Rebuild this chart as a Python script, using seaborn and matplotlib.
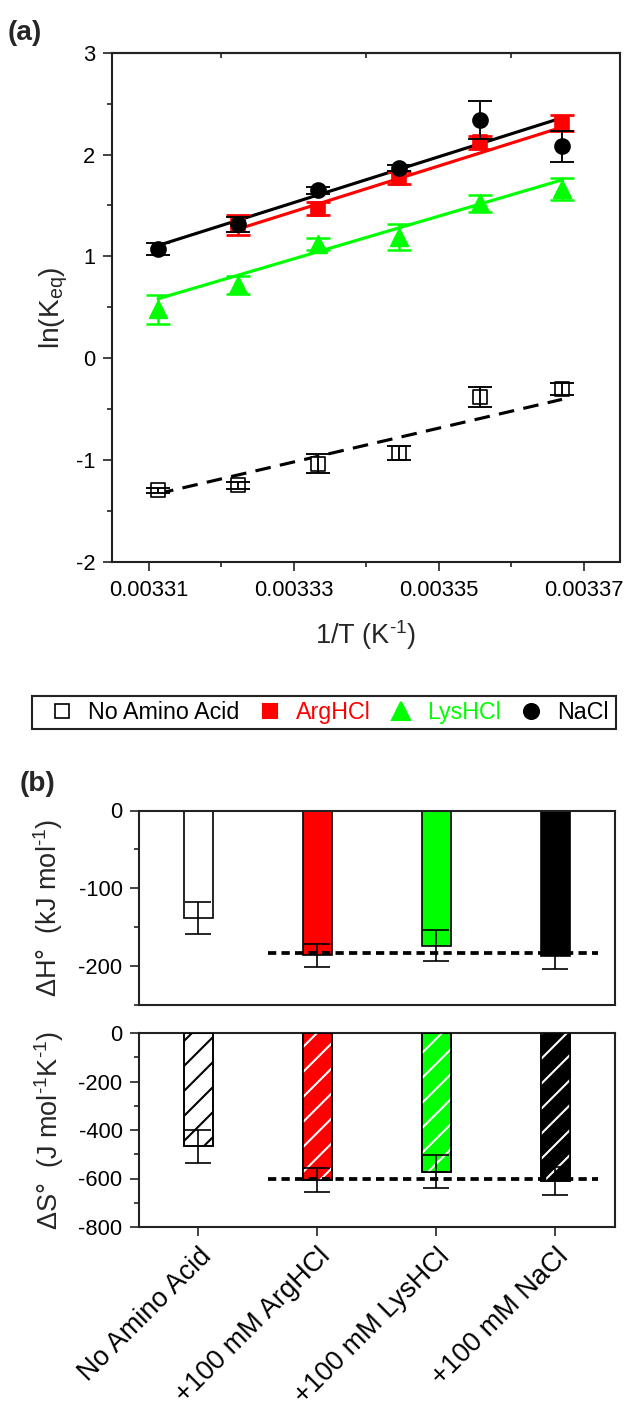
import numpy as np
import matplotlib
matplotlib.use("Agg")
import matplotlib.pyplot as plt
from matplotlib.lines import Line2D
from matplotlib.patches import Rectangle
import seaborn as sns

# ---------------- data ----------------
R_GAS = 8.314  # J mol-1 K-1
temps = np.array([302.0, 301.0, 300.0, 299.0, 298.0, 297.0])  # K

# van 't Hoff points, ln(Keq) with errors
lnk_none = [-1.295, -1.246, -1.033, -0.93, -0.38, -0.305]
err_none = [0.025, 0.033, 0.09, 0.07, 0.10, 0.06]
lnk_arg = [1.307, 1.47, 1.77, 2.12, 2.31]          # 301 K ... 297 K
err_arg = [0.10, 0.065, 0.057, 0.065, 0.08]
lnk_lys = [0.48, 0.72, 1.12, 1.19, 1.52, 1.66]
err_lys = [0.14, 0.085, 0.057, 0.127, 0.082, 0.11]
lnk_nacl = [1.07, 1.317, 1.65, 1.87, 2.34, 2.08]
err_nacl = [0.057, 0.074, 0.033, 0.028, 0.185, 0.15]

series_names = ["No Amino Acid", "ArgHCl", "LysHCl", "NaCl"]
conditions = ["No Amino Acid", "+100 mM ArgHCl", "+100 mM LysHCl", "+100 mM NaCl"]

# thermodynamic parameters from the fits
dH = [-138.0, -186.0, -174.0, -187.0]        # kJ mol-1
dH_err = [20.5, 14.6, 20.0, 17.0]
dS = [-468.0, -607.4, -571.3, -610.0]         # J mol-1 K-1
dS_err = [70.0, 50.0, 69.0, 56.0]
dH_ref = -183.0
dS_ref = -600.0

x_ticks = [0.00331, 0.00333, 0.00335, 0.00337]
x_ticklabels = ["0.00331", "0.00333", "0.00335", "0.00337"]

RED = "#ff0000"
GREEN = "#00ff00"
bar_colors = ["white", RED, GREEN, "black"]
hatch_colors = ["black", "white", "white", "white"]

# ---------------- style ----------------
sns.set_style("ticks")
plt.rcParams["font.family"] = ["Liberation Sans", "DejaVu Sans"]
plt.rcParams["mathtext.fontset"] = "custom"
plt.rcParams["mathtext.rm"] = "Liberation Sans"
plt.rcParams["mathtext.it"] = "Liberation Sans:italic"
plt.rcParams["mathtext.bf"] = "Liberation Sans:bold"
plt.rcParams["axes.unicode_minus"] = False
plt.rcParams["hatch.linewidth"] = 1.0
plt.rcParams["axes.linewidth"] = 1.0
plt.rcParams["axes.edgecolor"] = "#222222"

TICK_FS = 10.5
LABEL_FS = 13
SUP = r"$\mathregular{^{\text{-}1}}$"

W, H, DPI = 626, 1411, 150
fig = plt.figure(figsize=(W / DPI, H / DPI), dpi=DPI)


def fig_axes(left, top, right, bottom):
    return fig.add_axes([left / W, 1 - bottom / H, (right - left) / W, (bottom - top) / H])


ax_a = fig_axes(112, 52.7, 620, 562)
ax_h = fig_axes(139, 810.5, 615, 1005)
ax_s = fig_axes(139, 1033, 615, 1227)

for ax in (ax_a, ax_h, ax_s):
    for sp in ax.spines.values():
        sp.set_visible(True)
        sp.set_linewidth(1.0)
    ax.tick_params(which="major", direction="out", length=4.3, width=0.8,
                   labelsize=TICK_FS, pad=3.6, colors="#222222", labelcolor="black")
    ax.tick_params(which="minor", direction="out", length=2.2, width=0.8, colors="#222222")

# ---------------- panel (a): van 't Hoff ----------------
inv_T = 1.0 / temps


def vant_hoff(h, s, t):
    return -h * 1000.0 / (R_GAS * t) + s / R_GAS


fits = [
    (temps, dH[0], dS[0], "black", (0, (5, 3))),
    (temps[1:], dH[1], dS[1], RED, "-"),
    (temps, dH[2], dS[2], GREEN, "-"),
    (temps, dH[3], dS[3], "black", "-"),
]
for t, h, s, c, ls in fits:
    sns.lineplot(x=1.0 / t, y=vant_hoff(h, s, t), color=c, linestyle=ls,
                 linewidth=1.5, ax=ax_a, zorder=2)

points = [
    (inv_T, lnk_none, err_none, "s", 40, "white", "black", 0.9),
    (inv_T, lnk_lys, err_lys, "^", 72, GREEN, GREEN, 1.2),
    (inv_T[1:], lnk_arg, err_arg, "s", 44, RED, RED, 1.3),
    (inv_T, lnk_nacl, err_nacl, "o", 52, "black", "black", 0.9),
]
for i, (x, y, e, m, size, fc, ec, elw) in enumerate(points):
    sns.scatterplot(x=x, y=y, marker=m, s=size, color=fc, edgecolor=ec,
                    linewidth=0.8, ax=ax_a, zorder=3 + 2 * i)
    ax_a.errorbar(x, y, yerr=e, fmt="none", ecolor=ec, elinewidth=elw,
                  capsize=5.8, capthick=elw, zorder=4 + 2 * i)

ax_a.set_xlim(0.0033049, 0.003375)
ax_a.set_ylim(-2, 3)
ax_a.set_xticks(x_ticks)
ax_a.set_xticklabels(x_ticklabels)
ax_a.set_xticks([0.00332, 0.00334, 0.00336], minor=True)
ax_a.set_yticks([-2, -1, 0, 1, 2, 3])
ax_a.set_yticks([-1.5, -0.5, 0.5, 1.5, 2.5], minor=True)
ax_a.tick_params(axis="x", pad=4.2)
top_ax = ax_a.secondary_xaxis("top")
top_ax.set_xticks([0.00332, 0.00334, 0.00336])
top_ax.tick_params(direction="in", length=2.2, width=0.8, labeltop=False, colors="#222222")
top_ax.spines["top"].set_linewidth(1.0)

ax_a.set_xlabel("1/T (K" + SUP + ")", fontsize=LABEL_FS, va="top")
ax_a.xaxis.set_label_coords(0.5, -0.11)
ax_a.set_ylabel(r"ln(K$\mathregular{_{eq}}$)", fontsize=13.5)
ax_a.yaxis.set_label_coords(-0.083, 0.5)

# ---------------- legend ----------------
handles = [
    Line2D([], [], ls="none", marker="s", markersize=6.3, markerfacecolor="white",
           markeredgecolor="black", markeredgewidth=0.8),
    Line2D([], [], ls="none", marker="s", markersize=6.5, color=RED),
    Line2D([], [], ls="none", marker="^", markersize=8.5, color=GREEN),
    Line2D([], [], ls="none", marker="o", markersize=7.2, color="black"),
]
leg = fig.legend(handles, series_names, loc="center left", ncol=4,
                 bbox_to_anchor=(50.5 / W, 1 - 712.5 / H), frameon=False,
                 fontsize=11.2, handlelength=1.0, handletextpad=0.62,
                 columnspacing=0.8, borderpad=0, borderaxespad=0)
for txt, c in zip(leg.get_texts(), ["black", RED, GREEN, "black"]):
    txt.set_color(c)
fig.add_artist(Rectangle((32 / W, 1 - 729 / H), 584 / W, 33 / H, transform=fig.transFigure,
                         facecolor="none", edgecolor="#222222", linewidth=1.0))

# ---------------- panel (b): bars ----------------
palette = dict(zip(conditions, bar_colors))
pos = np.arange(len(conditions))
ref_span = [0.58, 3.36]

for ax, vals, errs, ref in ((ax_h, dH, dH_err, dH_ref), (ax_s, dS, dS_err, dS_ref)):
    sns.barplot(x=conditions, y=vals, hue=conditions, palette=palette, width=0.25,
                saturation=1, edgecolor="black", linewidth=0.8, errorbar=None,
                legend=False, ax=ax, zorder=2)
    ax.errorbar(pos, vals, yerr=errs, fmt="none", ecolor="black", elinewidth=0.8,
                capsize=6.2, capthick=0.8, zorder=5)
    ax.plot(ref_span, [ref, ref], color="black", linewidth=1.8,
            linestyle=(0, (2.2, 1.4)), zorder=6)
    ax.set_xlim(-0.5, 3.5)
    ax.set_xlabel("")

# hatching of the entropy bars
for p, hc in zip(list(ax_s.patches)[:4], hatch_colors):
    ax_s.add_patch(Rectangle((p.get_x(), p.get_y()), p.get_width(), p.get_height(),
                             facecolor="none", edgecolor=hc, linewidth=0, hatch="//", zorder=3))
    ax_s.add_patch(Rectangle((p.get_x(), p.get_y()), p.get_width(), p.get_height(),
                             facecolor="none", edgecolor="black", linewidth=0.8, zorder=4))

ax_h.set_ylim(-250, 0)
ax_h.set_yticks([-200, -100, 0])
ax_h.set_yticks([-250, -150, -50], minor=True)
ax_h.tick_params(axis="x", which="both", bottom=False, labelbottom=False)
ax_h.set_ylabel("ΔH°  (kJ mol" + SUP + ")", fontsize=LABEL_FS)
ax_h.yaxis.set_label_coords(-0.155, 0.5)

ax_s.set_ylim(-800, 0)
ax_s.set_yticks([-800, -600, -400, -200, 0])
ax_s.set_yticks([-700, -500, -300, -100], minor=True)
ax_s.set_xticks(pos)
ax_s.set_xticklabels(conditions, rotation=45, ha="right", rotation_mode="anchor",
                     fontsize=13)
ax_s.set_ylabel("ΔS°  (J mol" + SUP + "K" + SUP + ")", fontsize=LABEL_FS)
ax_s.yaxis.set_label_coords(-0.153, 0.5)

fig.text(8 / W, 1 - 20 / H, "(a)", fontsize=13.5, fontweight="bold", ha="left", va="top")
fig.text(20 / W, 1 - 771 / H, "(b)", fontsize=13.5, fontweight="bold", ha="left", va="top")

fig.savefig("out.png", dpi=DPI)
